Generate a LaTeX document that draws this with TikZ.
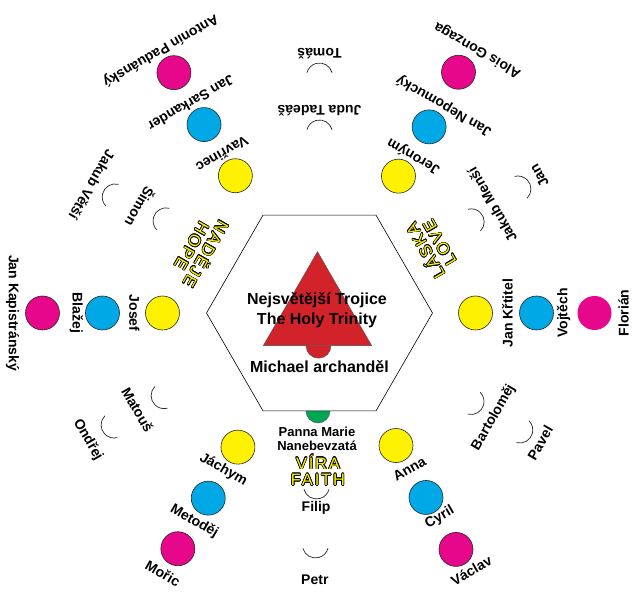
\documentclass[tikz,border=0pt]{standalone}
\usepackage{xcolor}
\usepackage{fontspec}
\setmainfont{Liberation Sans}
\newfontface\virtueface[LetterSpace=11]{Liberation Sans}
\usepackage{tikz}
\usepackage{contour}
\contourlength{0.6pt}
\definecolor{dotyellow}{HTML}{FFF200}
\definecolor{dotblue}{HTML}{00A9E6}
\definecolor{dotpink}{HTML}{E6078B}
\definecolor{trinityred}{HTML}{D2232A}
\definecolor{marygreen}{HTML}{00A651}

\begin{document}
\begin{tikzpicture}[x=1pt,y=1pt,
  saint/.style={font=\fontsize{14}{16}\selectfont\bfseries,inner sep=0pt},
  saintdot/.style={circle,minimum size=34pt,inner sep=0pt,draw=black!85,line width=0.6pt},
  ydot/.style={saintdot,fill=dotyellow},
  bdot/.style={saintdot,fill=dotblue},
  pdot/.style={saintdot,fill=dotpink},
  halfmoon/.style={line width=0.7pt,draw=black!85},
  virtue/.style={font=\virtueface\fontsize{16.5}{16.3}\selectfont,text=dotyellow,align=center,inner sep=0pt}]
\useasboundingbox (-319.5,-283) rectangle (317.5,313);
  \fill[marygreen,draw=black!70,line width=0.4pt] (-13.5,-98) arc[start angle=180,end angle=360,radius=12];
  \draw[line width=0.6pt] (0:113) -- (60:113) -- (120:113) -- (180:113) -- (240:113) -- (300:113) -- cycle;
  \fill[trinityred,draw=black!70,line width=0.4pt] (-13.5,-32.7) arc[start angle=180,end angle=360,radius=12.5];
  \draw[fill=trinityred,draw=black!70,line width=0.4pt] (-56.2,-32.7) -- (52.2,-32.7) -- (-2,61.3) -- cycle;
  \node[font=\fontsize{16}{20}\selectfont\bfseries,align=center] (trinity) at (-2.5,3) {Nejsvětější Trojice\\The Holy Trinity};
  \node[font=\fontsize{16}{20}\selectfont\bfseries] (michael) at (0,-54) {Michael archanděl};
  \node[font=\fontsize{13}{13.3}\selectfont\bfseries,align=center] (marie) at (-2.5,-126) {Panna Marie\\Nanebevzatá};
  \node[virtue] (vira) at (-1.5,-157.5) {\contour{black}{VÍRA}\\\contour{black}{FAITH}};
  \node[virtue,rotate=120] (laska) at (30.4:130) {\contour{black}{LÁSKA}\\\contour{black}{LOVE}};
  \node[virtue,rotate=240] (nadeje) at (152.5:135) {\contour{black}{NADĚJE}\\\contour{black}{HOPE}};
  \node[ydot] (krtitel) at (0:156) {};
  \node[saint,rotate=90] (krtitelL) at (0:188) {Jan Křtitel};
  \node[bdot] (vojtech) at (0:217) {};
  \node[saint,rotate=90] (vojtechL) at (0:244) {Vojtěch};
  \node[pdot,draw=none] (florian) at (0:275) {};
  \node[saint,rotate=90] (florianL) at (0:304) {Florián};
  \node[ydot] (jeronym) at (60:158) {};
  \node[saint,rotate=150] (jeronymL) at (59:183) {Jeroným};
  \node[bdot] (nepomucky) at (59.5:216) {};
  \node[saint,rotate=150] (nepomuckyL) at (59:242) {Jan Nepomucký};
  \node[pdot] (gonzaga) at (60:278) {};
  \node[saint,rotate=150] (gonzagaL) at (59:307) {Alois Gonzaga};
  \node[ydot] (vavrinec) at (121.5:161) {};
  \node[saint,rotate=210] (vavrinecL) at (121.5:186) {Vavřinec};
  \node[bdot] (sarkander) at (121.5:221) {};
  \node[saint,rotate=210] (sarkanderL) at (121.5:246) {Jan Sarkander};
  \node[pdot] (paduansky) at (121.2:281) {};
  \node[saint,rotate=210] (paduanskyL) at (121.2:307) {Antonín Paduánský};
  \node[ydot] (josef) at (180:157) {};
  \node[saint,rotate=270] (josefL) at (180:185) {Josef};
  \node[bdot] (blazej) at (180:217) {};
  \node[saint,rotate=270] (blazejL) at (180:243) {Blažej};
  \node[pdot] (kapistransky) at (180:277) {};
  \node[saint,rotate=270] (kapistranskyL) at (180:307) {Jan Kapistránský};
  \node[ydot] (jachym) at (238.7:157) {};
  \node[saint,rotate=330] (jachymL) at (238.5:184) {Jáchym};
  \node[bdot] (metodej) at (239:216) {};
  \node[saint,rotate=330] (metodejL) at (239:243) {Metoděj};
  \node[pdot] (moric) at (239:275) {};
  \node[saint,rotate=330] (moricL) at (239:304) {Mořic};
  \node[ydot] (anna) at (300:153) {};
  \node[saint,rotate=30] (annaL) at (300:180) {Anna};
  \node[bdot] (cyril) at (300:213) {};
  \node[saint,rotate=30] (cyrilL) at (300.5:237) {Cyril};
  \node[pdot] (vaclav) at (300:273) {};
  \node[saint,rotate=30] (vaclavL) at (300.5:299) {Václav};
  \draw[halfmoon] ([shift={(90:180)}]15:13) arc[start angle=15,end angle=165,radius=13];
  \node[saint,rotate=180] (judaL) at (90:202) {Juda Tadeáš};
  \draw[halfmoon] ([shift={(90:237)}]15:13) arc[start angle=15,end angle=165,radius=13];
  \node[saint,rotate=180] (tomasL) at (90:259) {Tomáš};
  \draw[halfmoon] ([shift={(269:173)}]195:13) arc[start angle=195,end angle=345,radius=13];
  \node[saint] (filipL) at (269:195) {Filip};
  \draw[halfmoon] ([shift={(269:232)}]195:13) arc[start angle=195,end angle=345,radius=13];
  \node[saint] (petrL) at (269:267) {Petr};
  \draw[halfmoon] ([shift={(31:177)}]-45:13) arc[start angle=-45,end angle=105,radius=13];
  \node[saint,rotate=120] (mensiL) at (32:203.5) {Jakub Menší};
  \draw[halfmoon] ([shift={(32:234)}]-45:13) arc[start angle=-45,end angle=105,radius=13];
  \node[saint,rotate=120] (janL) at (32:259) {Jan};
  \draw[halfmoon] ([shift={(149:179)}]75:13) arc[start angle=75,end angle=225,radius=13];
  \node[saint,rotate=240] (simonL) at (149.4:208) {Šimon};
  \draw[halfmoon] ([shift={(150.4:235)}]75:13) arc[start angle=75,end angle=225,radius=13];
  \node[saint,rotate=240] (vetsiL) at (150.6:261) {Jakub Větší};
  \draw[halfmoon] ([shift={(208:176)}]135:13) arc[start angle=135,end angle=285,radius=13];
  \node[saint,rotate=300] (matousL) at (208:206) {Matouš};
  \draw[halfmoon] ([shift={(208.6:234)}]135:13) arc[start angle=135,end angle=285,radius=13];
  \node[saint,rotate=300] (ondrejL) at (208.7:264) {Ondřej};
  \draw[halfmoon] ([shift={(329.7:175.5)}]255:13) arc[start angle=255,end angle=405,radius=13];
  \node[saint,rotate=60] (bartolomejL) at (329:203) {Bartoloměj};
  \draw[halfmoon] ([shift={(329.7:232)}]255:13) arc[start angle=255,end angle=405,radius=13];
  \node[saint,rotate=60] (pavelL) at (329.5:256) {Pavel};
\end{tikzpicture}
\end{document}
